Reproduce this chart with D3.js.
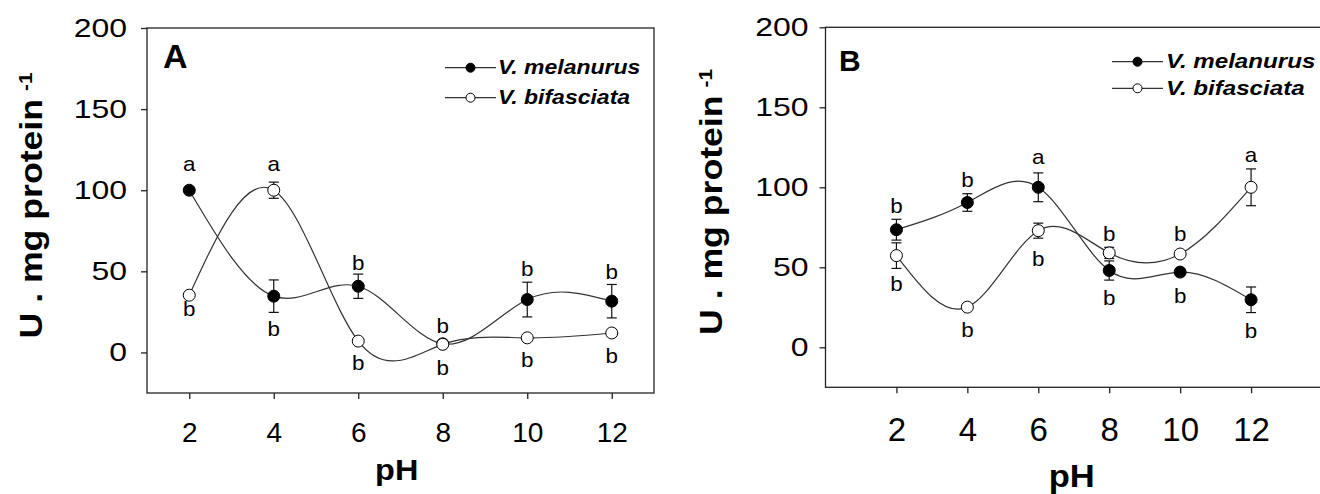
<!DOCTYPE html>
<html>
<head>
<meta charset="utf-8">
<script src="https://cdn.jsdelivr.net/npm/d3@7"></script>
<style>
body { margin: 0; background: #fff; }
svg { display: block; font-family: "Liberation Sans", Arial, sans-serif; }
</style>
</head>
<body>
<svg id="chart" width="1320" height="494"></svg>
<script>
const ph = [2, 4, 6, 8, 10, 12];
const xTicks = [2, 4, 6, 8, 10, 12];
const yTicks = [0, 50, 100, 150, 200];
const seriesNames = ["V. melanurus", "V. bifasciata"];

// panel A values (U . mg protein-1)
const melA = [100, 34.7, 40.8, 5.3, 32.6, 31.6];
const melAErr = [0, 10, 7.5, 0, 10.7, 10.3];
const bifA = [35.3, 100, 7, 5, 9, 12];
const bifAErr = [0, 5, 0, 0, 0, 0];
const melALetters = ["a", "b", "b", "b", "b", "b"];
const melALetterAt = [112, 10, 51, 12, 47.4, 45.4];
const bifALetters = ["b", "a", "b", "b", "b", "b"];
const bifALetterAt = [22.4, 112, -10.9, -14, -8.8, -6.4];

// panel B values
const melB = [73.5, 90.5, 100, 48, 47, 29.7];
const melBErr = [6.5, 5.5, 9, 6, 2, 8];
const bifB = [57.3, 25.1, 72.9, 59, 58.3, 100];
const bifBErr = [8, 1, 4.7, 3.5, 1.5, 11.5];
const melBLetters = ["b", "b", "a", "b", "b", "b"];
const melBLetterAt = [84.2, 100.2, 114.4, 26.2, 27.6, 6];
const bifBLetters = ["b", "b", "b", "b", "b", "a"];
const bifBLetterAt = [34.9, 6.4, 51, 66.2, 66.2, 116];

const svg = d3.select("#chart");
const ink = "#222";

function stretched(g, x, y, sx, rot) {
	return g.append("text")
		.attr("transform", `translate(${x},${y})` + (rot ? ` rotate(${rot})` : "") + ` scale(${sx},1)`);
}

function drawPanel(p) {
	const x = d3.scaleLinear().domain(p.xDomain).range(p.xRange);
	const y = d3.scaleLinear().domain([-25, 200]).range(p.yRange);
	const g = svg.append("g");

	// frame
	g.append("rect")
		.attr("x", p.xRange[0])
		.attr("y", p.yRange[1])
		.attr("width", p.xRange[1] - p.xRange[0])
		.attr("height", p.yRange[0] - p.yRange[1])
		.attr("fill", "none")
		.attr("stroke", ink)
		.attr("stroke-width", 1.3);

	// y axis
	const ya = g.append("g")
		.attr("transform", `translate(${p.xRange[0]},0)`)
		.call(d3.axisLeft(y).tickValues(yTicks).tickSize(6).tickPadding(p.yPad));
	ya.select(".domain").remove();
	ya.attr("font-size", null).attr("font-family", null);
	ya.selectAll("line").attr("stroke", ink).attr("stroke-width", 1.3);
	ya.selectAll("text")
		.attr("font-size", 25)
		.attr("fill", "#000")
		.attr("x", -(6 + p.yPad) / 1.28)
		.attr("transform", "scale(1.28,1)");

	// x axis
	const xa = g.append("g")
		.attr("transform", `translate(0,${p.yRange[0]})`)
		.call(d3.axisBottom(x).tickValues(xTicks).tickSize(6));
	xa.select(".domain").remove();
	xa.attr("font-size", null).attr("font-family", null);
	xa.selectAll("line").attr("stroke", ink).attr("stroke-width", 1.3);
	xa.selectAll("text")
		.attr("font-size", p.xFont)
		.attr("fill", "#000")
		.attr("dy", null)
		.attr("y", p.xLabelBase - p.yRange[0]);

	// spline through the means
	const line = d3.line()
		.x((d, i) => x(ph[i]))
		.y(d => y(d))
		.curve(d3.curveNatural);

	const series = [
		{ values: p.mel, err: p.melErr, fill: "#000", letters: p.melLetters, at: p.melLetterAt },
		{ values: p.bif, err: p.bifErr, fill: "#fff", letters: p.bifLetters, at: p.bifLetterAt },
	];

	for (const s of series) {
		g.append("path")
			.datum(s.values)
			.attr("fill", "none")
			.attr("stroke", "#333")
			.attr("stroke-width", 1.2)
			.attr("d", line);
	}

	// error bars
	for (const s of series) {
		s.values.forEach((v, i) => {
			if (s.err[i] <= 0) return;
			const cx = x(ph[i]);
			const eg = g.append("g").attr("stroke", "#111").attr("stroke-width", 1.2);
			eg.append("line").attr("x1", cx).attr("x2", cx).attr("y1", y(v - s.err[i])).attr("y2", y(v + s.err[i]));
			for (const e of [v - s.err[i], v + s.err[i]])
				eg.append("line").attr("x1", cx - 5).attr("x2", cx + 5).attr("y1", y(e)).attr("y2", y(e));
		});
	}

	// markers
	for (const s of series) {
		g.append("g")
			.selectAll("circle")
			.data(s.values)
			.enter()
			.append("circle")
			.attr("cx", (d, i) => x(ph[i]))
			.attr("cy", d => y(d))
			.attr("r", 6)
			.attr("fill", s.fill)
			.attr("stroke", "#000")
			.attr("stroke-width", 1);
	}

	// significance letters
	for (const s of series) {
		s.letters.forEach((t, i) => {
			stretched(g, x(ph[i]), y(s.at[i]), 1.12)
				.attr("text-anchor", "middle")
				.attr("font-size", 20)
				.text(t);
		});
	}

	// legend
	seriesNames.forEach((name, i) => {
		const ly = p.legend.y[i];
		g.append("line")
			.attr("x1", p.legend.x0).attr("x2", p.legend.x1)
			.attr("y1", ly).attr("y2", ly)
			.attr("stroke", "#333").attr("stroke-width", 1.2);
		g.append("circle")
			.attr("cx", (p.legend.x0 + p.legend.x1) / 2)
			.attr("cy", ly)
			.attr("r", 4.5)
			.attr("fill", series[i].fill)
			.attr("stroke", "#000");
		stretched(g, p.legend.tx, ly + p.legend.font * 0.31, 1.15)
			.attr("font-size", p.legend.font)
			.attr("font-weight", "bold")
			.attr("font-style", "italic")
			.text(name);
	});

	// panel letter
	g.append("text")
		.attr("x", p.tag.x)
		.attr("y", p.tag.y)
		.attr("font-size", p.tag.size)
		.attr("font-weight", "bold")
		.text(p.tag.text);

	// axis titles
	const yt = stretched(g, p.yTitle.x, p.yTitle.y, 1.15, -90)
		.attr("font-size", 31)
		.attr("font-weight", "bold");
	yt.append("tspan").text("U . mg protein");
	yt.append("tspan").attr("dx", 7).attr("dy", -10).attr("font-size", 18).text("-1");

	stretched(g, p.xTitle.x, p.xTitle.y, 1.08)
		.attr("text-anchor", "middle")
		.attr("font-size", p.xTitle.size)
		.attr("font-weight", "bold")
		.text("pH");
}

drawPanel({
	xDomain: [1, 13], xRange: [147, 654], yRange: [393, 28],
	yPad: 14, xFont: 28, xLabelBase: 441.7,
	mel: melA, melErr: melAErr, bif: bifA, bifErr: bifAErr,
	melLetters: melALetters, melLetterAt: melALetterAt,
	bifLetters: bifALetters, bifLetterAt: bifALetterAt,
	legend: { x0: 445, x1: 496, y: [67.7, 97.7], tx: 498, font: 20 },
	tag: { text: "A", x: 163, y: 67.7, size: 34 },
	yTitle: { x: 41.7, y: 338.5 },
	xTitle: { x: 396.7, y: 480, size: 30 },
});

drawPanel({
	xDomain: [0, 14], xRange: [825.5, 1322], yRange: [387.3, 27.3],
	yPad: 11, xFont: 33, xLabelBase: 440.7,
	mel: melB, melErr: melBErr, bif: bifB, bifErr: bifBErr,
	melLetters: melBLetters, melLetterAt: melBLetterAt,
	bifLetters: bifBLetters, bifLetterAt: bifBLetterAt,
	legend: { x0: 1112, x1: 1163, y: [61.7, 88.3], tx: 1166, font: 21 },
	tag: { text: "B", x: 839, y: 70.7, size: 30 },
	yTitle: { x: 721.7, y: 335 },
	xTitle: { x: 1071.7, y: 486.7, size: 32 },
});
</script>
</body>
</html>
